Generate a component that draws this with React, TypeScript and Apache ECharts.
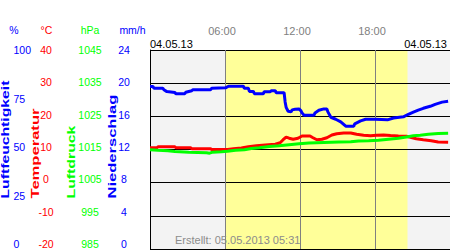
import React, { useEffect, useRef } from "react";
import * as echarts from "echarts";

// ---- data (hours of 04.05.13, value) ----
const humidity: [number, number][] = [
  [0, 81.6], [0.24, 81.6], [0.32, 80.8], [1.03, 80.8], [1.11, 80.0], [1.35, 79.1], [1.99, 78.7],
  [2.07, 78.0], [2.78, 78.0], [2.86, 78.8], [3.34, 79.5], [3.42, 80.0], [4.85, 80.0], [4.93, 80.8],
  [6.04, 81.0], [6.28, 81.8], [7.47, 81.8], [7.55, 80.8], [7.87, 80.8], [7.95, 79.2], [8.27, 79.2],
  [8.35, 78.0], [9.06, 78.0], [9.14, 79.0], [9.62, 79.0], [9.7, 79.5], [10.02, 79.5], [10.1, 78.5],
  [10.73, 78.5], [10.81, 73.9], [10.89, 71.2], [11.05, 69.2], [11.29, 68.9], [11.37, 69.9],
  [11.61, 70.2], [11.92, 70.4], [12.08, 69.4], [12.16, 68.4], [12.32, 67.2], [13.12, 67.2],
  [13.2, 68.4], [13.51, 69.7], [13.91, 70.4], [14.15, 70.4], [14.23, 68.9], [14.47, 66.2],
  [14.86, 65.2], [15.26, 63.9], [15.66, 61.7], [16.3, 61.7], [16.38, 62.9], [16.85, 64.4],
  [17.25, 65.2], [18.04, 65.2], [19.0, 64.9], [19.48, 65.8], [20.27, 66.4], [20.67, 67.7],
  [21.07, 68.8], [21.46, 69.8], [21.86, 70.7], [22.42, 71.7], [22.81, 72.7], [23.37, 73.8],
  [23.85, 74.2],
];

const temperature: [number, number][] = [
  [0, 10.54], [0.56, 10.54], [0.64, 10.84], [1.99, 10.84], [2.07, 10.54], [3.26, 10.54],
  [3.34, 10.24], [4.85, 10.24], [4.93, 10.03], [6.2, 10.03], [6.68, 10.24], [7.31, 10.45],
  [7.87, 10.84], [8.51, 11.14], [9.22, 11.35], [10.02, 11.59], [10.41, 12.04], [10.65, 12.95],
  [10.89, 13.76], [11.13, 13.4], [11.45, 13.1], [11.84, 13.4], [12.16, 14.06], [12.8, 14.06],
  [13.04, 13.55], [13.35, 12.95], [13.75, 13.1], [14.15, 13.55], [14.55, 14.36], [14.94, 14.75],
  [15.5, 14.99], [16.06, 14.99], [16.53, 14.6], [17.09, 14.3], [17.65, 14.15], [18.12, 14.3],
  [18.68, 14.36], [19.24, 14.21], [19.87, 14.06], [20.51, 14.0], [20.83, 13.7], [21.3, 13.25],
  [21.86, 12.95], [22.5, 12.65], [23.05, 12.26], [23.85, 12.2],
];

const pressure: [number, number][] = [
  [0, 1014.94], [0.64, 1014.79], [1.43, 1014.64], [1.99, 1014.43], [3.1, 1014.19], [4.53, 1014.04],
  [4.77, 1013.89], [5.01, 1014.19], [5.72, 1014.34], [6.2, 1014.49], [6.84, 1014.79],
  [7.55, 1014.94], [8.11, 1015.33], [8.74, 1015.54], [9.54, 1015.93], [10.33, 1016.14],
  [11.13, 1016.44], [11.92, 1016.74], [12.72, 1016.95], [13.91, 1017.1], [15.1, 1017.25],
  [16.06, 1017.34], [16.69, 1017.55], [17.49, 1017.64], [18.28, 1017.79], [19.08, 1018.1],
  [19.87, 1018.4], [20.51, 1018.76], [21.07, 1019.15], [21.62, 1019.3], [22.26, 1019.6],
  [23.05, 1019.84], [23.85, 1019.9],
];

const daylight = [6.0, 20.6];

// axis ranges: [min, max, interval]
const hoursRange = [0, 24, 6];
const humidityRange = [0, 100, 25];
const temperatureRange = [-20, 40, 10];
const pressureRange = [985, 1045, 10];
const precipRange = [0, 24, 4];

const dateLeft = "04.05.13";
const dateRight = "04.05.13";
const created = "Erstellt: 05.05.2013 05:31";

const FONT = '"Liberation Sans", Arial, sans-serif';
const BLUE = "#0000ff";
const RED = "#ff0000";
const GREEN = "#00ff00";

function textWidth(text: string, font: string): number {
  const ctx = document.createElement("canvas").getContext("2d");
  if (!ctx) return text.length * 6;
  ctx.font = font;
  return ctx.measureText(text).width;
}

export default function App() {
  const ref = useRef<HTMLDivElement>(null);

  useEffect(() => {
    if (!ref.current) return;
    const chart = echarts.init(ref.current, undefined, { renderer: "svg" });

    const titleFont = 'bold 10px "Liberation Sans", Arial, sans-serif';
    const titles = [
      { text: "Luftfeuchtigkeit", x: 5.3, len: 118, color: BLUE },
      { text: "Temperatur", x: 35.6, len: 90, color: RED },
      { text: "Luftdruck", x: 71.8, len: 73, color: GREEN },
      { text: "Niederschlag", x: 112.4, len: 104, color: BLUE },
    ];

    const headers = [
      { text: "%", x: 14, color: BLUE },
      { text: "°C", x: 46.5, color: RED },
      { text: "hPa", x: 90, color: GREEN },
      { text: "mm/h", x: 132.5, color: BLUE },
    ];

    const graphic: any[] = [
      ...titles.map((t) => ({
        type: "text",
        x: t.x,
        y: 198.5,
        rotation: Math.PI / 2,
        scaleX: t.len / textWidth(t.text, titleFont),
        silent: true,
        style: {
          text: t.text,
          fill: t.color,
          font: titleFont,
          align: "left",
          verticalAlign: "middle",
          textAlign: "left",
          textVerticalAlign: "middle",
        },
      })),
      ...headers.map((h) => ({
        type: "text",
        x: h.x,
        y: 30,
        silent: true,
        style: {
          text: h.text,
          fill: h.color,
          font: `10.5px ${FONT}`,
          align: "center",
          verticalAlign: "middle",
          textAlign: "center",
          textVerticalAlign: "middle",
        },
      })),
      {
        type: "text",
        x: 150,
        y: 43.5,
        silent: true,
        style: {
          text: dateLeft, fill: "#000", font: `11px ${FONT}`,
          align: "left", verticalAlign: "middle", textAlign: "left", textVerticalAlign: "middle",
        },
      },
      {
        type: "text",
        x: 447,
        y: 43.5,
        silent: true,
        style: {
          text: dateRight, fill: "#000", font: `11px ${FONT}`,
          align: "right", verticalAlign: "middle", textAlign: "right", textVerticalAlign: "middle",
        },
      },
      {
        type: "text",
        x: 175,
        y: 240,
        z: 100,
        silent: true,
        style: {
          text: created, fill: "#8c8c8c", font: `11px ${FONT}`,
          align: "left", verticalAlign: "middle", textAlign: "left", textVerticalAlign: "middle",
        },
      },
    ];

    const labelAxis = (range: number[], color: string, align: string, margin: number) => ({
      type: "value",
      gridIndex: 1,
      position: "left",
      offset: 0,
      min: range[0],
      max: range[1],
      interval: range[2],
      axisLine: { show: false },
      axisTick: { show: false },
      splitLine: { show: false },
      axisLabel: {
        show: true, color, align, margin, fontSize: 10.5, fontFamily: FONT,
        formatter: (v: number) => String(v),
      },
    });

    const hiddenAxis = (range: number[]) => ({
      type: "value",
      gridIndex: 0,
      position: "left",
      min: range[0],
      max: range[1],
      interval: range[2],
      show: false,
      splitLine: { show: false },
    });

    chart.setOption({
      animation: false,
      textStyle: { fontFamily: FONT },
      grid: [
        {
          left: 150, top: 50, width: 302, height: 199,
          show: true, backgroundColor: "#f3f3f3", borderWidth: 0,
        },
        { left: 150, top: 50, width: 302, height: 194, show: false },
      ],
      xAxis: [
        {
          type: "value",
          gridIndex: 0,
          position: "top",
          min: hoursRange[0],
          max: hoursRange[1],
          interval: hoursRange[2],
          z: 3,
          axisLine: { show: false },
          axisTick: { show: false },
          axisLabel: {
            show: true,
            color: "#808080",
            fontSize: 11,
            margin: 14,
            padding: [0, 6, 0, 0],
            showMinLabel: false,
            showMaxLabel: false,
            formatter: (v: number) => (v < 10 ? "0" : "") + v + ":00",
          },
          splitLine: { show: true, lineStyle: { color: "#808080", width: 1 } },
        },
        { type: "value", gridIndex: 1, min: 0, max: 24, show: false },
      ],
      yAxis: [
        {
          type: "value",
          gridIndex: 0,
          position: "left",
          min: temperatureRange[0],
          max: temperatureRange[1],
          interval: temperatureRange[2],
          z: 3,
          axisLine: { show: true, lineStyle: { color: "#000", width: 1 } },
          axisTick: { show: false },
          axisLabel: { show: false },
          splitLine: { show: true, lineStyle: { color: "#000", width: 1 } },
        },
        hiddenAxis(humidityRange),
        hiddenAxis(pressureRange),
        labelAxis(humidityRange, BLUE, "left", 136.5),
        labelAxis(temperatureRange, RED, "center", 104),
        labelAxis(pressureRange, GREEN, "center", 60),
        labelAxis(precipRange, BLUE, "center", 26),
      ],
      series: [
        {
          name: "Luftfeuchtigkeit",
          type: "line",
          xAxisIndex: 0,
          yAxisIndex: 1,
          data: humidity,
          showSymbol: false,
          z: 6,
          lineStyle: { color: BLUE, width: 3 },
          itemStyle: { color: BLUE },
          markArea: {
            silent: true,
            itemStyle: { color: "#ffff99" },
            data: [[{ xAxis: daylight[0] }, { xAxis: daylight[1] }]],
          },
        },
        {
          name: "Temperatur",
          type: "line",
          xAxisIndex: 0,
          yAxisIndex: 0,
          data: temperature,
          showSymbol: false,
          z: 6,
          lineStyle: { color: RED, width: 3 },
          itemStyle: { color: RED },
        },
        {
          name: "Luftdruck",
          type: "line",
          xAxisIndex: 0,
          yAxisIndex: 2,
          data: pressure,
          showSymbol: false,
          z: 7,
          lineStyle: { color: GREEN, width: 3 },
          itemStyle: { color: GREEN },
        },
      ],
      graphic,
    });

    return () => chart.dispose();
  }, []);

  return (
    <div
      ref={ref}
      style={{ position: "absolute", left: 0, top: 0, width: 450, height: 250, background: "#fff" }}
    />
  );
}
